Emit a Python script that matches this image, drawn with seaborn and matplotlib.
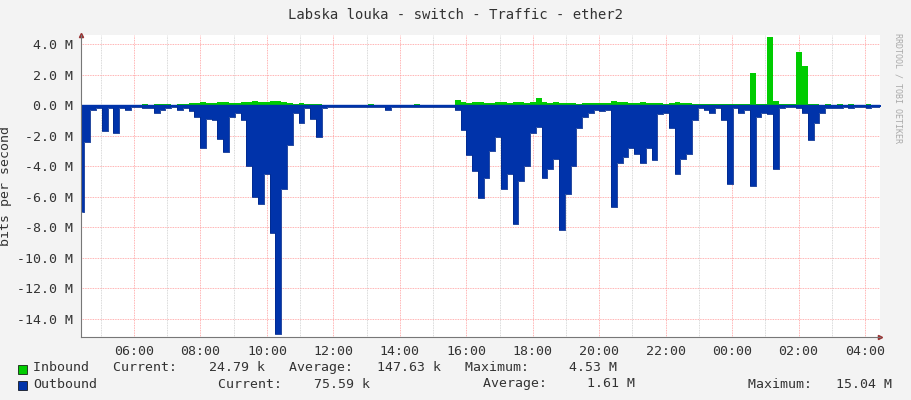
import numpy as np
import pandas as pd
import matplotlib
matplotlib.use("Agg")
import matplotlib.pyplot as plt
import seaborn as sns

# consolidated samples starting 04:25
start_hour = 4.42
step_min = 10.45

outbound = [
    -7.0, -2.4, -0.3, -0.2, -1.7, -0.2, -1.8, -0.2, -0.3, -0.1,
    -0.1, -0.2, -0.2, -0.5, -0.3, -0.2, -0.1, -0.3, -0.2, -0.4,
    -0.8, -2.8, -0.9, -1.0, -2.2, -3.1, -0.8, -0.5, -1.0, -4.0,
    -6.0, -6.5, -4.5, -8.4, -15.0, -5.5, -2.6, -0.5, -1.2, -0.2,
    -0.9, -2.1, -0.2, -0.1, -0.1, -0.1, -0.1, -0.1, -0.1, -0.1,
    -0.1, -0.1, -0.1, -0.3, -0.1, -0.1, -0.1, -0.1, -0.1, -0.1,
    -0.1, -0.1, -0.1, -0.1, -0.1, -0.3, -1.6, -3.3, -4.3, -6.1,
    -4.8, -3.0, -2.1, -5.5, -4.5, -7.8, -5.0, -4.0, -1.8, -1.4,
    -4.8, -4.2, -3.5, -8.2, -5.8, -4.0, -1.5, -0.8, -0.5, -0.3,
    -0.4, -0.3, -6.7, -3.8, -3.4, -2.8, -3.2, -3.8, -2.8, -3.6,
    -0.6, -0.5, -1.5, -4.5, -3.5, -3.2, -1.0, -0.2, -0.3, -0.5,
    -0.2, -1.0, -5.2, -0.2, -0.5, -0.3, -5.3, -0.8, -0.5, -0.6,
    -4.2, -0.2, -0.1, -0.1, -0.2, -0.5, -2.3, -1.2, -0.5, -0.2,
    -0.2, -0.2, -0.1, -0.2, -0.1, -0.1, -0.2, -0.1, -0.1, -0.1,
    -0.1, -0.2, -0.1, -0.1,
]

inbound = [
    0.02, 0.02, 0.02, 0.01, 0.02, 0.02, 0.03, 0.02, 0.02, 0.03,
    0.02, 0.05, 0.03, 0.08, 0.05, 0.06, 0.04, 0.08, 0.1, 0.12,
    0.15, 0.2, 0.15, 0.12, 0.18, 0.22, 0.15, 0.14, 0.2, 0.18,
    0.25, 0.22, 0.2, 0.3, 0.25, 0.2, 0.15, 0.1, 0.12, 0.05,
    0.08, 0.1, 0.03, 0.02, 0.02, 0.03, 0.02, 0.04, 0.02, 0.02,
    0.05, 0.02, 0.03, 0.02, 0.02, 0.02, 0.02, 0.03, 0.06, 0.02,
    0.04, 0.02, 0.03, 0.02, 0.02, 0.35, 0.2, 0.15, 0.2, 0.18,
    0.15, 0.12, 0.2, 0.18, 0.15, 0.2, 0.22, 0.15, 0.2, 0.5,
    0.18, 0.15, 0.2, 0.15, 0.12, 0.15, 0.1, 0.12, 0.15, 0.12,
    0.15, 0.12, 0.25, 0.2, 0.18, 0.15, 0.15, 0.2, 0.15, 0.12,
    0.12, 0.1, 0.12, 0.18, 0.15, 0.12, 0.1, 0.08, 0.08, 0.1,
    0.06, 0.05, 0.05, 0.05, 0.06, 0.05, 2.1, 0.1, 0.1, 4.5,
    0.3, 0.1, 0.1, 0.1, 3.5, 2.6, 0.05, 0.05, 0.04, 0.05,
    0.04, 0.05, 0.04, 0.05, 0.04, 0.04, 0.05, 0.04, 0.04, 0.05,
    0.04, 0.04, 0.05, 0.04,
]

df = pd.DataFrame({"outbound": outbound, "inbound": inbound})
df["hour"] = start_hour + np.arange(len(df)) * step_min / 60

sns.set_style("white")
plt.rcParams["font.family"] = ["DejaVu Sans Mono"]

fig = plt.figure(figsize=(9.11, 4.0), dpi=100, facecolor="#f3f3f3")
ax = fig.add_axes([81 / 911, 63 / 400, 799 / 911, 302 / 400])
ax.set_facecolor("white")

ax.fill_between(df["hour"], 0, df["inbound"], color="#00cc00", step="mid", lw=0)
ax.fill_between(df["hour"], 0, df["outbound"], color="#0033aa", step="mid", lw=0)
sns.lineplot(data=df, x="hour", y="outbound", ax=ax, color="#002a8f", lw=0.6,
             drawstyle="steps-mid")
ax.axhline(0, color="#0033aa", lw=1)

px_per_hour = 731 / 22
x0 = 6 - 53 / px_per_hour
ax.set_xlim(x0, x0 + 799 / px_per_hour)
ax.set_ylim(-15.2, 4.6)

xt = np.arange(6, 29, 2)
ax.set_xticks(xt)
ax.set_xticklabels([f"{int(h) % 24:02d}:00" for h in xt])
ax.set_xticks(np.arange(5, 29, 1), minor=True)
yt = np.arange(-14, 5, 2)
ax.set_yticks(yt)
ax.set_yticklabels([f"{v:.1f} M" for v in yt])

ax.grid(True, which="minor", axis="x", color="#cccccc", ls=(0, (1, 1)), lw=0.6)
ax.grid(True, which="major", color="#ff9999", ls=(0, (1, 1)), lw=0.6)
ax.set_axisbelow(True)
ax.tick_params(labelsize=9.5, colors="#333333", length=2)
for s in ["top", "right"]:
    ax.spines[s].set_visible(False)
ax.spines["left"].set_color("#777777")
ax.spines["bottom"].set_color("#777777")
ax.set_xlabel("")
ax.set_ylabel("bits per second", fontsize=9.5, color="#333333")

# small axis arrowheads like rrdtool
ax.plot(1, 0, ">", transform=ax.transAxes, color="#993333", ms=3, clip_on=False)
ax.plot(0, 1, "^", transform=ax.transAxes, color="#993333", ms=3, clip_on=False)

fig.text(0.5, 1 - 15 / 400, "Labska louka - switch - Traffic - ether2",
         ha="center", va="center", fontsize=10, color="#333333")
fig.text(0.986, 0.78, "RRDTOOL / TOBI OETIKER", rotation=270, ha="center",
         va="center", fontsize=6, color="#aaaaaa")

fig.patches.append(plt.Rectangle((18 / 911, 1 - 374 / 400), 9 / 911, 9 / 400,
                                 transform=fig.transFigure, fc="#00cc00", ec="black", lw=0.5))
fig.patches.append(plt.Rectangle((18 / 911, 1 - 390 / 400), 9 / 911, 9 / 400,
                                 transform=fig.transFigure, fc="#0033aa", ec="black", lw=0.5))
fig.text(33 / 911, 1 - 368 / 400,
         "Inbound   Current:    24.79 k   Average:   147.63 k   Maximum:     4.53 M",
         va="center", fontsize=9.5, color="#333333")
fig.text(33 / 911, 1 - 384 / 400, "Outbound", va="center", fontsize=9.5, color="#333333")
fig.text(218 / 911, 1 - 384 / 400, "Current:    75.59 k", va="center", fontsize=9.5, color="#333333")
fig.text(483 / 911, 1 - 384 / 400, "Average:     1.61 M", va="center", fontsize=9.5, color="#333333")
fig.text(748 / 911, 1 - 384 / 400, "Maximum:   15.04 M", va="center", fontsize=9.5, color="#333333")

fig.savefig("out.png", dpi=100, facecolor=fig.get_facecolor())
